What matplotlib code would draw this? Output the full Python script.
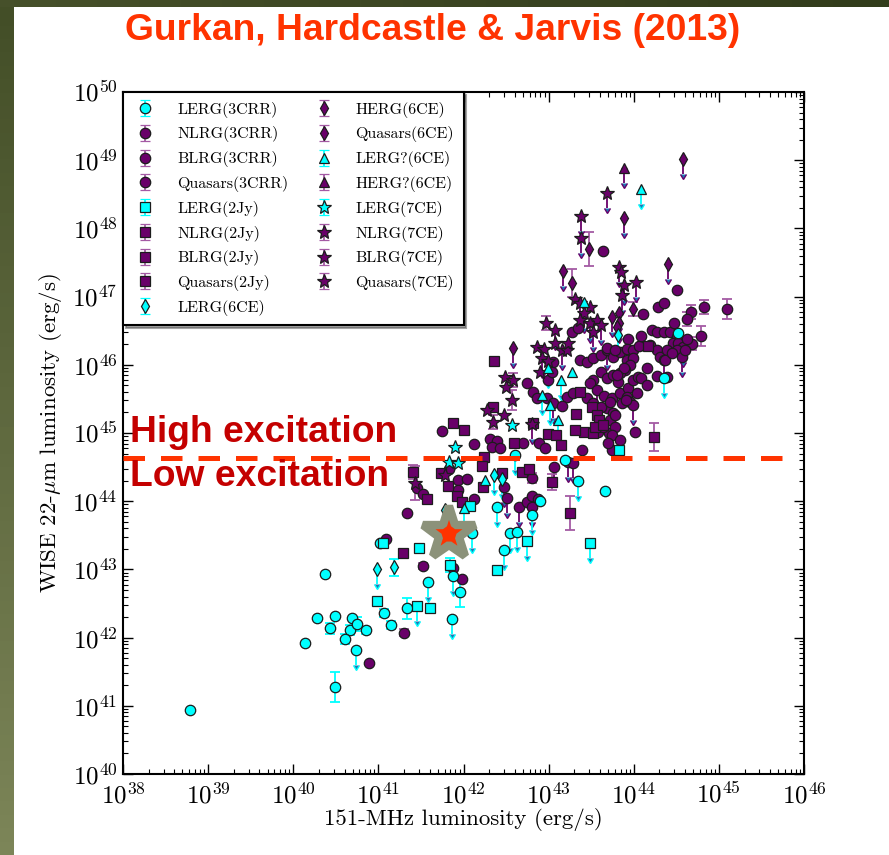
import numpy as np
import matplotlib.pyplot as plt
from matplotlib.colors import LinearSegmentedColormap
from matplotlib.ticker import LogLocator, NullFormatter

plt.rcParams.update({'font.family': 'cmr10', 'mathtext.fontset': 'cm',
                     'axes.formatter.use_mathtext': True,
                     'axes.unicode_minus': False})

# rows: log10 L151 [erg/s], log10 L22 [erg/s], error (dex), upper limit flag
lerg_3crr = [
    [38.79, 40.94, 0, 0], [40.14, 41.92, 0, 0], [40.28, 42.29, 0, 0],
    [40.49, 42.32, 0, 0], [40.43, 42.14, 0.08, 0], [40.69, 42.29, 0, 0],
    [40.67, 42.11, 0.07, 0], [40.75, 42.20, 0.10, 0], [40.61, 41.98, 0.08, 0],
    [40.74, 41.82, 0, 1], [40.86, 42.11, 0.05, 0], [40.49, 41.28, 0.22, 0],
    [41.07, 42.36, 0.06, 0], [41.15, 42.18, 0.06, 0], [41.34, 42.43, 0.15, 0],
    [41.58, 42.81, 0, 1], [41.87, 42.27, 0, 1], [41.96, 42.67, 0.22, 0],
    [40.37, 42.93, 0, 0], [41.02, 43.39, 0, 0], [41.88, 42.90, 0, 1],
    [42.10, 43.53, 0, 1], [42.39, 43.92, 0, 1], [42.81, 43.80, 0, 1],
    [42.90, 44.00, 0, 0], [42.55, 43.53, 0, 1], [42.63, 43.55, 0, 1],
    [42.48, 43.28, 0, 1], [43.19, 44.60, 0, 0], [43.35, 44.30, 0, 1],
    [43.66, 44.15, 0, 0], [42.61, 44.68, 0, 1], [44.52, 46.47, 0, 1],
    [44.35, 45.81, 0, 1],
]
lerg_2jy = [
    [40.98, 42.54, 0, 0], [41.45, 42.46, 0, 1], [41.61, 42.43, 0.05, 0],
    [41.06, 43.39, 0, 0], [41.48, 43.31, 0, 0], [41.84, 43.06, 0.10, 0],
    [42.08, 43.93, 0, 0], [42.39, 42.99, 0, 0], [42.75, 43.42, 0, 1],
    [43.49, 43.39, 0, 1], [43.83, 44.75, 0, 0],
]
lerg_6ce = [
    [40.98, 43.01, 0, 1], [41.18, 43.03, 0.12, 0], [41.78, 43.87, 0, 0],
    [42.36, 44.38, 0, 1], [42.45, 44.33, 0, 1], [43.82, 46.44, 0, 1],
]
lerg_q_6ce = [
    [42.00, 43.90, 0, 1], [42.25, 44.31, 0, 0], [44.09, 48.58, 0, 1],
    [42.99, 45.95, 0, 1], [43.14, 45.78, 0, 1], [43.28, 45.89, 0, 0],
    [42.92, 45.56, 0, 1], [43.02, 45.41, 0, 1], [43.11, 45.19, 0, 1],
    [43.41, 46.92, 0, 0],
]
lerg_7ce = [
    [41.90, 44.79, 0, 0], [41.83, 44.57, 0, 0], [41.94, 44.56, 0, 0],
    [42.57, 45.12, 0, 0],
]
herg_6ce = [
    [44.58, 49.02, 0, 1], [43.88, 48.15, 0, 1], [43.48, 47.70, 0.25, 0],
    [43.17, 47.38, 0, 1], [43.28, 47.20, 0.20, 0], [44.40, 47.48, 0, 1],
    [43.99, 46.82, 0.10, 0], [42.58, 46.25, 0, 1], [43.75, 46.70, 0, 1],
    [43.83, 46.76, 0, 1], [43.83, 46.61, 0, 1], [43.80, 46.55, 0, 0],
]
herg_q_6ce = [
    [43.88, 48.89, 0, 1],
]
herg_7ce = [
    [43.69, 48.52, 0, 1], [43.38, 48.18, 0, 1], [43.38, 47.86, 0, 1],
    [43.83, 47.43, 0, 1], [43.85, 47.36, 0, 0], [43.88, 47.17, 0, 1],
    [43.86, 47.02, 0, 1], [44.03, 47.21, 0, 1], [43.31, 46.96, 0, 0],
    [43.37, 46.91, 0, 1], [43.49, 46.85, 0, 0], [43.41, 46.76, 0, 1],
    [42.97, 46.61, 0.10, 0], [43.08, 46.51, 0, 1], [42.86, 46.26, 0, 0],
    [42.94, 46.23, 0, 0], [42.92, 46.10, 0, 1], [43.08, 46.32, 0, 0],
    [43.16, 46.22, 0, 1], [43.22, 46.22, 0, 0], [43.23, 46.32, 0, 0],
    [43.37, 46.66, 0, 0], [43.49, 46.61, 0, 1], [43.57, 46.66, 0, 0],
    [43.61, 46.58, 0, 1], [43.52, 46.48, 0, 1], [42.49, 45.82, 0, 0],
    [42.58, 45.78, 0.10, 0], [42.50, 45.67, 0, 0], [42.57, 45.48, 0.15, 0],
    [42.28, 45.34, 0, 0], [42.35, 45.16, 0.10, 0], [42.48, 45.26, 0, 0],
    [42.81, 45.13, 0, 1], [41.43, 44.27, 0.25, 0], [41.78, 44.38, 0, 0],
    [42.90, 45.89, 0, 0], [42.99, 46.06, 0, 0],
]
herg_2jy = [
    [41.29, 43.24, 0, 0], [41.41, 44.43, 0.10, 0], [41.57, 44.03, 0, 0],
    [41.88, 45.15, 0, 0], [42.01, 45.04, 0, 0], [41.73, 44.41, 0, 0],
    [41.82, 44.22, 0, 0], [41.92, 44.08, 0, 0], [41.98, 43.99, 0, 0],
    [42.24, 44.65, 0, 0], [42.22, 44.52, 0, 0], [42.23, 44.21, 0, 0],
    [42.35, 45.38, 0, 0], [42.59, 44.85, 0, 0], [42.99, 44.99, 0, 0],
    [43.09, 44.97, 0, 0], [43.14, 44.82, 0, 0], [43.41, 45.01, 0, 0],
    [43.52, 45.00, 0, 0], [42.45, 44.41, 0, 0], [42.69, 44.43, 0, 0],
    [42.77, 44.47, 0, 0], [43.04, 44.28, 0.12, 0], [43.25, 43.83, 0.25, 0],
    [42.36, 46.06, 0, 0], [43.37, 45.60, 0, 0], [43.51, 45.38, 0, 0],
    [43.32, 45.28, 0, 0], [43.57, 45.26, 0, 0], [43.59, 45.19, 0, 0],
    [43.55, 45.09, 0, 0], [43.64, 45.12, 0, 0], [42.82, 45.15, 0, 0],
    [43.31, 45.04, 0, 0], [44.24, 44.94, 0.20, 0], [44.17, 46.28, 0, 0],
]
herg_3crr = [
    [40.89, 41.63, 0, 0], [41.30, 42.07, 0.05, 0], [41.09, 43.45, 0, 0],
    [41.53, 43.05, 0.05, 0], [41.34, 43.83, 0, 0], [41.45, 44.19, 0, 0],
    [41.53, 44.10, 0, 0], [41.75, 45.03, 0, 0], [41.83, 44.47, 0, 0],
    [41.94, 44.31, 0, 0], [41.94, 44.16, 0, 0], [42.04, 44.33, 0, 0],
    [42.12, 44.84, 0, 0], [42.12, 44.03, 0, 0], [41.88, 43.02, 0, 0],
    [41.98, 42.86, 0, 0], [42.31, 44.91, 0, 0], [42.39, 44.88, 0, 0],
    [42.34, 44.80, 0, 0], [42.43, 44.78, 0, 0], [42.70, 44.85, 0, 0],
    [42.89, 44.85, 0, 0], [42.96, 44.78, 0, 0], [43.39, 44.75, 0, 0],
    [43.58, 45.01, 0, 0], [43.71, 45.00, 0, 0], [43.75, 44.75, 0, 0],
    [42.81, 44.34, 0.08, 0], [43.06, 44.50, 0, 1], [43.23, 44.57, 0, 1],
    [43.29, 44.56, 0, 1], [42.47, 44.21, 0, 1], [42.51, 44.05, 0, 1],
    [42.65, 43.92, 0, 1], [42.75, 43.99, 0, 0], [42.81, 44.08, 0, 0],
    [42.88, 44.03, 0, 0], [42.81, 43.92, 0, 1], [43.64, 47.67, 0, 0],
    [44.51, 47.10, 0, 0], [44.29, 46.85, 0, 0], [44.35, 46.91, 0, 0],
    [44.11, 46.74, 0, 0], [44.67, 46.77, 0.10, 0], [44.63, 46.67, 0.10, 0],
    [44.83, 46.85, 0.10, 0], [45.09, 46.82, 0.15, 0], [44.79, 46.42, 0.15, 0],
    [43.05, 46.04, 0, 0], [43.28, 46.48, 0, 0], [43.35, 46.54, 0, 0],
    [43.93, 46.38, 0, 0], [44.08, 46.29, 0, 0], [44.19, 46.29, 0, 0],
    [44.22, 46.51, 0, 0], [44.27, 46.48, 0, 0], [44.35, 46.48, 0, 0],
    [44.43, 46.48, 0, 0], [44.51, 46.41, 0, 0], [44.46, 46.32, 0, 0],
    [44.52, 46.32, 0, 0], [44.58, 46.26, 0, 1], [44.69, 46.31, 0.10, 0],
    [44.27, 46.22, 0, 0], [44.31, 46.11, 0, 0], [44.35, 46.07, 0, 1],
    [44.39, 46.22, 0, 0], [44.51, 46.22, 0, 0], [44.57, 46.11, 0, 1],
    [44.39, 45.82, 0, 0], [43.37, 46.07, 0, 0], [43.45, 46.04, 0, 0],
    [43.52, 46.10, 0, 0], [43.61, 46.14, 0, 0], [43.69, 46.22, 0, 1],
    [43.76, 46.11, 0, 0], [43.84, 46.19, 0, 0], [43.92, 46.23, 0, 0],
    [43.99, 46.22, 0, 0], [44.06, 46.28, 0, 0], [43.92, 46.07, 0, 0],
    [43.99, 46.10, 0, 0], [43.96, 46.00, 0, 0], [43.90, 45.92, 0, 0],
    [43.84, 45.88, 0, 0], [43.61, 45.89, 0, 0], [43.69, 45.81, 0, 0],
    [43.76, 45.85, 0, 0], [43.82, 45.75, 0, 0], [43.52, 45.78, 0, 0],
    [43.49, 45.74, 0, 0], [43.57, 45.63, 0, 1], [43.65, 45.54, 0, 0],
    [43.75, 45.51, 0, 0], [43.84, 45.59, 0, 0], [43.93, 45.66, 0, 0],
    [43.99, 45.78, 0, 0], [44.05, 45.82, 0, 0], [44.16, 45.95, 0, 0],
    [43.92, 45.53, 0.08, 0], [43.96, 45.46, 0, 0], [43.86, 45.44, 0, 0],
    [43.99, 45.41, 0, 1], [43.69, 45.37, 0, 0], [43.76, 45.29, 0, 0],
    [43.72, 45.19, 0, 0], [43.78, 45.09, 0, 0], [43.75, 44.97, 0, 0],
    [43.64, 45.09, 0, 0], [43.22, 45.53, 0, 0], [43.29, 45.59, 0, 0],
    [43.45, 45.51, 0, 0], [43.52, 45.44, 0, 0], [43.61, 45.38, 0, 1],
    [42.75, 45.73, 0, 0], [42.82, 45.60, 0, 0], [42.86, 45.51, 0, 0],
    [42.98, 45.51, 0, 0], [43.05, 45.44, 0, 1], [43.16, 45.40, 0, 0],
    [42.99, 45.78, 0, 0], [43.04, 45.89, 0, 0], [44.02, 45.01, 0, 0],
    [43.70, 44.85, 0, 0], [43.84, 44.90, 0, 0], [44.09, 46.42, 0, 0],
    [43.69, 46.25, 0, 0], [43.78, 46.22, 0, 0], [43.88, 45.95, 0, 0],
    [43.80, 45.85, 0, 0], [44.08, 45.81, 0, 0], [44.16, 45.70, 0, 0],
    [44.04, 45.59, 0, 0], [43.91, 45.48, 0, 0], [43.78, 45.26, 0, 0],
    [43.72, 45.46, 0, 0], [44.27, 45.84, 0, 0], [44.37, 46.07, 0, 0],
    [44.45, 46.17, 0, 0], [44.60, 46.22, 0, 0], [44.62, 46.38, 0, 0],
    [44.47, 46.61, 0, 0],
]

# the highlighted source
star_x, star_y = 41.83, 43.52
# excitation divide
divide_y = 44.63
divide_x = [38.0, 45.76]

legend_labels = ['LERG(3CRR)', 'NLRG(3CRR)', 'BLRG(3CRR)', 'Quasars(3CRR)',
                 'LERG(2Jy)', 'NLRG(2Jy)', 'BLRG(2Jy)', 'Quasars(2Jy)',
                 'LERG(6CE)', 'HERG(6CE)', 'Quasars(6CE)', 'LERG?(6CE)',
                 'HERG?(6CE)', 'LERG(7CE)', 'NLRG(7CE)', 'BLRG(7CE)',
                 'Quasars(7CE)']
legend_markers = ['o', 'o', 'o', 'o', 's', 's', 's', 's', 'd', 'd', 'd',
                  '^', '^', '*', '*', '*', '*']
legend_low = [1, 0, 0, 0, 1, 0, 0, 0, 1, 0, 0, 1, 0, 1, 0, 0, 0]

CYAN = '#00ffff'
PURPLE = '#690069'
PURPLE_BAR = '#a45aa4'
EDGE = '#1c1c1c'
MS = {'o': 7.5, 's': 7.0, 'd': 7.5, '^': 7.5, '*': 10.0}


def draw(ax, rows, marker, low):
    d = np.array(rows, dtype=float)
    x, y, e, lim = 10**d[:, 0], 10**d[:, 1], d[:, 2], d[:, 3] > 0
    face = CYAN if low else PURPLE
    bar = CYAN if low else PURPLE_BAR
    arrow = CYAN if low else PURPLE
    s = (e > 0) & ~lim
    if s.any():
        ax.errorbar(x[s], y[s], yerr=[y[s]*(1 - 10**-e[s]), y[s]*(10**e[s] - 1)],
                    fmt='none', ecolor=bar, elinewidth=1.3, capsize=3.5,
                    capthick=1.3, zorder=3)
    if lim.any():
        ax.errorbar(x[lim], y[lim],
                    yerr=[y[lim]*(1 - 10**-0.22), np.zeros(lim.sum())],
                    uplims=True, fmt='none', ecolor=arrow, elinewidth=1.3,
                    capsize=2.5, zorder=3)
    ax.plot(x, y, marker=marker, ms=MS[marker], mfc=face, mec=EDGE, mew=0.9,
            ls='none', zorder=4)


fig = plt.figure(figsize=(8.89, 8.55), dpi=100)

# slide frame: olive bands along the top and left edges
band_l = fig.add_axes([0, 0, 14/889, 1])
band_l.imshow(np.linspace(0, 1, 64)[:, None], aspect='auto',
              cmap=LinearSegmentedColormap.from_list('l', ['#434e27', '#7c8558']))
band_l.axis('off')
band_t = fig.add_axes([0, 1 - 7/855, 1, 7/855])
band_t.imshow(np.linspace(0, 1, 64)[None, :], aspect='auto',
              cmap=LinearSegmentedColormap.from_list('t', ['#46502a', '#323c1b']))
band_t.axis('off')

fig.text(0.487, 1 - 30/855, 'Gurkan, Hardcastle & Jarvis (2013)',
         family='Liberation Sans', weight='bold', fontsize=26.8,
         color='#ff3300', ha='center', va='center')

ax = fig.add_axes([123/889, 81/855, 681/889, 682/855])

draw(ax, herg_3crr, 'o', False)
draw(ax, herg_2jy, 's', False)
draw(ax, herg_6ce, 'd', False)
draw(ax, herg_q_6ce, '^', False)
draw(ax, herg_7ce, '*', False)
draw(ax, lerg_3crr, 'o', True)
draw(ax, lerg_2jy, 's', True)
draw(ax, lerg_6ce, 'd', True)
draw(ax, lerg_q_6ce, '^', True)
draw(ax, lerg_7ce, '*', True)

ax.plot(10.0**np.array(divide_x), [10**divide_y]*2, color='#ff3300', lw=3.6,
        dashes=(4.3, 3.2), dash_capstyle='butt', zorder=5)
ax.plot(10**star_x, 10**star_y, marker='*', ms=40, mfc='#ff3300',
        mec='#8c927a', mew=6, zorder=6)

ax.text(0.011, 0.487, 'High excitation', transform=ax.transAxes,
        family='Liberation Sans', weight='bold', fontsize=26.8, color='#c40000',
        va='baseline', zorder=7)
ax.text(0.011, 0.423, 'Low excitation', transform=ax.transAxes,
        family='Liberation Sans', weight='bold', fontsize=26.8, color='#c40000',
        va='baseline', zorder=7)

ax.set_xscale('log')
ax.set_yscale('log')
ax.set_xlim(1e38, 1e46)
ax.set_ylim(1e40, 1e50)
ax.set_xticks(10.0**np.arange(38, 47))
ax.set_yticks(10.0**np.arange(40, 51))
ax.xaxis.set_minor_locator(LogLocator(base=10, subs=np.arange(2, 10), numticks=100))
ax.yaxis.set_minor_locator(LogLocator(base=10, subs=np.arange(2, 10), numticks=100))
ax.xaxis.set_minor_formatter(NullFormatter())
ax.yaxis.set_minor_formatter(NullFormatter())
ax.tick_params(which='both', direction='in', top=True, right=True,
               labelsize=18)
ax.tick_params(which='major', length=7, width=1)
ax.tick_params(which='minor', length=3.5, width=0.8)
ax.tick_params(axis='x', pad=6)
ax.tick_params(axis='y', pad=4)
for side in ['top', 'bottom', 'left', 'right']:
    ax.spines[side].set_linewidth(1.5)

ax.set_xlabel('151-MHz luminosity (erg/s)', fontsize=16.5, labelpad=0)
ax.set_ylabel(r'WISE 22-$\mu$m luminosity (erg/s)', fontsize=16.5, labelpad=6)

# legend entries, one per sample/class
handles = []
for lab, mk, low in zip(legend_labels, legend_markers, legend_low):
    h = ax.errorbar([np.nan], [np.nan], yerr=[1.0], marker=mk, ms=MS[mk],
                    mfc=CYAN if low else PURPLE, mec=EDGE, mew=0.9, ls='none',
                    ecolor=CYAN if low else PURPLE_BAR, elinewidth=1.3,
                    capsize=3.5, capthick=1.3, label=lab)
    handles.append(h)
leg = ax.legend(handles=handles, ncol=2, loc='upper left',
                bbox_to_anchor=(0, 1), borderaxespad=0, fontsize=11.5,
                frameon=True, fancybox=False, shadow=True, framealpha=1,
                edgecolor='black', labelspacing=0.55, handlelength=1.6,
                handletextpad=1.2, columnspacing=1.4, borderpad=0.6)
leg.get_frame().set_linewidth(1.5)
leg.set_zorder(8)

fig.savefig('out.png', dpi=100, facecolor='white')
